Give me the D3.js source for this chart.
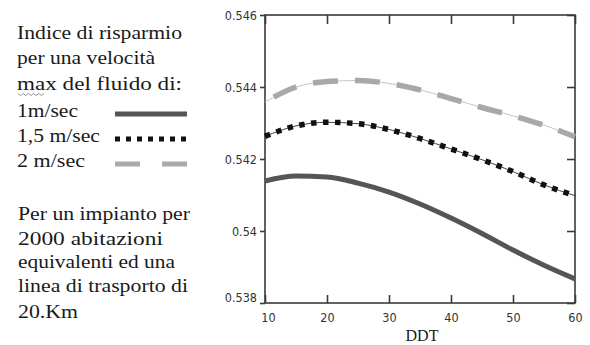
<!DOCTYPE html>
<html><head><meta charset="utf-8">
<script src="https://cdn.jsdelivr.net/npm/d3@7"></script>
<style>html,body{margin:0;padding:0;background:#fff;overflow:hidden}</style>
</head><body>
<svg id="c" width="590" height="345"></svg>
<script>
const ddt = [10,15,20,25,30,35,40,45,50,55,60];
const v1 = [0.54139,0.54153,0.54150,0.54133,0.54108,0.54075,0.54036,0.53993,0.53947,0.53905,0.53867];
const v15 = [0.54263,0.54292,0.54302,0.54298,0.54282,0.54257,0.54228,0.54198,0.54165,0.54128,0.54098];
const v2 = [0.54358,0.54400,0.54415,0.54418,0.54410,0.54392,0.54368,0.54343,0.54320,0.54294,0.54262];
const xTicks = [10,20,30,40,50,60];
const yTicks = [0.538,0.540,0.542,0.544,0.546];
const yTickLabels = ["0.538","0.54","0.542","0.544","0.546"];
const legendTitle = ["Indice di risparmio","per una velocità","max del fluido di:"];
const seriesNames = ["1m/sec","1,5 m/sec","2 m/sec"];
const noteLines = ["Per un impianto per","2000 abitazioni","equivalenti ed una","linea di trasporto di","20.Km"];
const xTitle = "DDT";

const svg = d3.select("#c");
const L=265,R=575,T=15,B=303;
const x = d3.scaleLinear().domain([10,60]).range([L,R]);
const y = d3.scaleLinear().domain([0.538,0.546]).range([B,T]);
const axisCol="#3a3a3a", txtCol="#1a1a1a";
const serif="Liberation Serif";

// frame
svg.append("rect").attr("x",L).attr("y",T).attr("width",R-L).attr("height",B-T)
  .attr("fill","none").attr("stroke",axisCol).attr("stroke-width",1.6);

// axes via d3
const gB = svg.append("g").attr("transform",`translate(0,${B})`)
  .call(d3.axisBottom(x).tickValues(xTicks).tickSize(-8).tickPadding(10).tickFormat(d3.format("d")));
const gT = svg.append("g").attr("transform",`translate(0,${T})`)
  .call(d3.axisTop(x).tickValues(xTicks).tickSize(-9).tickFormat(""));
const gL = svg.append("g").attr("transform",`translate(${L},0)`)
  .call(d3.axisLeft(y).tickValues(yTicks).tickSize(5).tickPadding(3).tickFormat((d,i)=>yTickLabels[i]));
const gR = svg.append("g").attr("transform",`translate(${R},0)`)
  .call(d3.axisRight(y).tickValues(yTicks).tickSize(-8).tickFormat(""));
[gB,gT,gL,gR].forEach(g=>{
  g.select(".domain").remove();
  g.selectAll(".tick line").attr("stroke",axisCol).attr("stroke-width",1.6);
  g.selectAll("text").attr("fill","#333").attr("font-family","DejaVu Sans Condensed, Liberation Sans Narrow, Liberation Sans, sans-serif").attr("font-size",12.5);
});
gL.selectAll(".tick").filter(d=>d===0.538).select("text").attr("dy","-0.1em");
gB.selectAll(".tick").filter(d=>d===10).select("text").attr("dx","3");

svg.append("text").attr("x",(L+R)/2 + 2).attr("y",341).attr("text-anchor","middle")
  .attr("font-family",serif).attr("font-size",16).attr("fill",txtCol).text(xTitle);

// lines
const line = d3.line().x((d,i)=>x(ddt[i])).y(d=>y(d)).curve(d3.curveMonotoneX);
// solid
svg.append("path").datum(v1).attr("d",line).attr("fill","none").attr("stroke","#555").attr("stroke-width",5);
// dotted
svg.append("path").datum(v15).attr("d",line).attr("fill","none").attr("stroke","#444").attr("stroke-width",1);
svg.append("path").datum(v15).attr("d",line).attr("fill","none").attr("stroke","#111").attr("stroke-width",5.5).attr("stroke-dasharray","5.5,6.5");
// dashed
svg.append("path").datum(v2).attr("d",line).attr("fill","none").attr("stroke","#c4c4c4").attr("stroke-width",1);
svg.append("path").datum(v2).attr("d",line).attr("fill","none").attr("stroke","#a8a8a8").attr("stroke-width",5.5).attr("stroke-dasharray","25,17").attr("stroke-dashoffset",-10);

// legend text
const titleW=[165,138,165];
const titleY=[39,64,90];
function txt(t,xx,yy,w){
  svg.append("text").attr("x",xx).attr("y",yy).attr("font-family",serif).attr("font-size",18)
    .attr("fill",txtCol)
    .attr("textLength",w).attr("lengthAdjust","spacingAndGlyphs").text(t);
}
legendTitle.forEach((t,i)=>txt(t,17,titleY[i],titleW[i]));
// wavy underline under "max"
const wav=[];for(let k=0;k<=10;k++){wav.push([18+k*2.6, 94+(k%2?1.5:-0.5)]);}
svg.append("path").attr("d",d3.line()(wav)).attr("fill","none").attr("stroke","#888").attr("stroke-width",0.9);

const serW=[61,83,68];
const serY=[117,142,167];
const serStyle=[
  {c:"#555",w:5,da:null},
  {c:"#111",w:5,da:"5,6"},
  {c:"#aaa",w:5,da:"25,22"}
];
seriesNames.forEach((s,i)=>{
  txt(s,17,serY[i],serW[i]);
  const st=serStyle[i];
  const p=svg.append("line").attr("x1",115).attr("x2",187).attr("y1",serY[i]-3).attr("y2",serY[i]-3)
    .attr("stroke",st.c).attr("stroke-width",st.w);
  if(st.da)p.attr("stroke-dasharray",st.da);
});

const noteW=[172,145,157,170,60];
const noteY=[220,245,268,292,318];
noteLines.forEach((t,i)=>txt(t,18,noteY[i],noteW[i]));
</script>
</body></html>
